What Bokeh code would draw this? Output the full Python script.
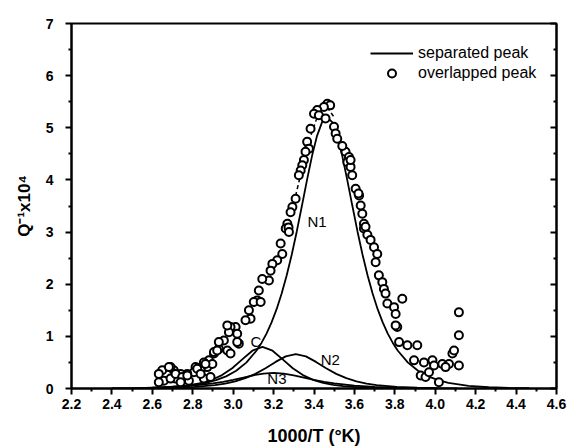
from bokeh.plotting import figure
from bokeh.models import (FixedTicker, PrintfTickFormatter, LinearAxis, Legend,
                          LegendItem, ColumnDataSource, CustomJSTickFormatter)
from bokeh.core.properties import value
from bokeh.embed import file_html
from bokeh.resources import INLINE

# ---------------- data ----------------
x_ticks = [2.2, 2.4, 2.6, 2.8, 3.0, 3.2, 3.4, 3.6, 3.8, 4.0, 4.2, 4.4, 4.6]
y_ticks = [0, 1, 2, 3, 4, 5, 6, 7]

# separated peak N1
n1_x = [2.565, 2.665, 2.765, 2.865, 2.915, 2.965, 3.015, 3.065, 3.115, 3.140, 3.165,
        3.190, 3.215, 3.240, 3.265, 3.290, 3.315, 3.340, 3.365, 3.390, 3.415, 3.440,
        3.465, 3.490, 3.515, 3.540, 3.565, 3.590, 3.615, 3.640, 3.665, 3.690, 3.715,
        3.740, 3.765, 3.790, 3.815, 3.865, 3.915, 3.965, 4.015, 4.065, 4.165, 4.265,
        4.365, 4.465]
n1_y = [0.011, 0.024, 0.051, 0.109, 0.159, 0.233, 0.340, 0.497, 0.724, 0.874, 1.053,
        1.267, 1.521, 1.821, 2.171, 2.571, 3.017, 3.499, 3.991, 4.456, 4.846, 5.108,
        5.200, 5.108, 4.846, 4.456, 3.991, 3.499, 3.017, 2.571, 2.171, 1.821, 1.521,
        1.267, 1.053, 0.874, 0.724, 0.497, 0.340, 0.233, 0.159, 0.109, 0.051, 0.024,
        0.011, 0.005]

# separated peak C
c_x = [2.545, 2.645, 2.745, 2.795, 2.845, 2.895, 2.945, 2.995, 3.045, 3.095, 3.145,
       3.195, 3.245, 3.295, 3.345, 3.395, 3.445, 3.495, 3.545, 3.645, 3.745]
c_y = [0.007, 0.018, 0.044, 0.068, 0.107, 0.167, 0.257, 0.389, 0.558, 0.725, 0.800,
       0.725, 0.558, 0.389, 0.257, 0.167, 0.107, 0.068, 0.044, 0.018, 0.007]

# separated peak N2
n2_x = [2.61, 2.71, 2.81, 2.91, 2.96, 3.01, 3.06, 3.11, 3.16, 3.21, 3.26, 3.31, 3.36,
        3.41, 3.46, 3.51, 3.56, 3.61, 3.66, 3.71, 3.81, 3.91, 4.01, 4.11]
n2_y = [0.007, 0.015, 0.031, 0.066, 0.095, 0.138, 0.198, 0.281, 0.388, 0.510, 0.616,
        0.660, 0.616, 0.510, 0.388, 0.281, 0.198, 0.138, 0.095, 0.066, 0.031, 0.015,
        0.007, 0.003]

# separated peak N3
n3_x = [2.40, 2.50, 2.60, 2.70, 2.80, 2.90, 2.95, 3.00, 3.05, 3.10, 3.15, 3.20, 3.25,
        3.30, 3.35, 3.40, 3.45, 3.50, 3.60, 3.70, 3.80, 3.90, 4.00]
n3_y = [0.005, 0.009, 0.016, 0.030, 0.054, 0.097, 0.128, 0.166, 0.209, 0.253, 0.287,
        0.300, 0.287, 0.253, 0.209, 0.166, 0.128, 0.097, 0.054, 0.030, 0.016, 0.009,
        0.005]

# overlapped peak (fitted, dashed near the top)
sum_x = [3.26, 3.30, 3.34, 3.38, 3.42, 3.46, 3.50]
sum_y = [3.05, 3.55, 4.20, 4.80, 5.25, 5.42, 5.20]

# overlapped peak, measured points
over_x = [3.466, 3.480, 3.449, 3.416, 3.400, 3.424, 3.457, 3.499, 3.507, 3.515, 3.383,
          3.366, 3.375, 3.358, 3.350, 3.342, 3.334, 3.325, 3.309, 3.293, 3.284, 3.268,
          3.260, 3.274, 3.556, 3.573, 3.565, 3.581, 3.589, 3.606, 3.623, 3.631, 3.639,
          3.647, 3.647, 3.581, 3.620, 3.655, 3.664, 3.680, 3.540,
          3.697, 3.713, 3.705, 3.721, 3.738, 3.746, 3.754, 3.837, 3.763, 3.796, 3.804,
          3.812, 3.821, 3.862, 3.911, 3.895, 3.944, 3.986, 3.994, 4.035, 4.068, 3.928,
          3.952, 3.969, 4.018, 4.085, 4.093, 4.117, 4.117, 4.117, 4.051, 3.804,
          3.276, 3.235, 3.243, 3.218, 3.194, 3.185, 3.177, 3.144, 3.127, 3.119, 3.102,
          3.136, 3.078, 3.086, 3.061, 3.012, 2.987, 2.979, 3.020, 2.954, 3.028, 2.929,
          2.971, 2.905, 2.987, 2.880, 2.855, 2.872, 2.897, 2.814, 2.839, 2.806, 2.773,
          2.740, 2.706, 2.690, 2.715, 2.781, 2.855, 2.888,
          2.649, 2.632, 2.682, 2.657, 2.690, 2.715, 2.748, 2.773, 2.740, 2.632, 2.822,
          2.839, 2.863, 2.905, 2.921, 2.929, 2.971, 3.020]
over_y = [5.46, 5.43, 5.40, 5.34, 5.27, 5.24, 5.18, 5.02, 4.89, 4.79, 4.98,
          4.73, 4.60, 4.54, 4.38, 4.28, 4.18, 4.09, 3.64, 3.48, 3.38, 3.16,
          3.07, 3.09, 4.54, 4.44, 4.34, 4.25, 4.09, 3.83, 3.70, 3.51, 3.35,
          3.16, 3.07, 4.38, 3.74, 3.10, 2.95, 2.85, 4.65,
          2.71, 2.58, 2.42, 2.17, 2.04, 1.91, 1.82, 1.72, 1.63, 1.56, 1.43,
          1.18, 0.89, 0.83, 0.83, 0.54, 0.50, 0.54, 0.44, 0.47, 0.47, 0.25,
          0.22, 0.31, 0.12, 0.67, 0.73, 0.44, 1.02, 1.46, 0.41, 1.21,
          3.00, 2.78, 2.58, 2.46, 2.39, 2.26, 2.07, 2.10, 1.88, 1.69, 1.66,
          1.66, 1.50, 1.34, 1.31, 1.18, 1.18, 1.08, 1.05, 0.92, 0.86, 0.76,
          0.73, 0.67, 0.67, 0.54, 0.50, 0.41, 0.47, 0.41, 0.35, 0.31, 0.28,
          0.28, 0.35, 0.41, 0.19, 0.15, 0.19, 0.22,
          0.35, 0.28, 0.41, 0.15, 0.19, 0.28, 0.22, 0.25, 0.12, 0.12, 0.38,
          0.28, 0.47, 0.70, 0.73, 0.89, 1.21, 0.89]

peak_labels = ["N1", "C", "N2", "N3"]
label_x = [3.368, 3.086, 3.433, 3.169]
label_y = [3.20, 0.91, 0.56, 0.19]

# ---------------- figure ----------------
FONT = "Liberation Sans"
p = figure(width=575, height=448, x_range=(2.2, 4.6), y_range=(0, 7),
           output_backend="svg", toolbar_location=None,
           min_border_left=71, min_border_right=19, min_border_top=23,
           min_border_bottom=60)
p.xgrid.visible = False
p.ygrid.visible = False
p.outline_line_color = "black"
p.outline_line_width = 2
p.outline_line_alpha = 1
p.background_fill_color = "white"
p.border_fill_color = "white"

lw = 1.8
r_n1 = p.line(n1_x, n1_y, line_color="black", line_width=lw)
p.line(c_x, c_y, line_color="black", line_width=lw)
p.line(n2_x, n2_y, line_color="black", line_width=lw)
p.line(n3_x, n3_y, line_color="black", line_width=lw)
p.line(sum_x, sum_y, line_color="black", line_width=1.5, line_dash="4 3")
r_sc = p.scatter(over_x, over_y, marker="circle", size=8, fill_color="white",
                 line_color="black", line_width=2)

src = ColumnDataSource(dict(x=label_x, y=label_y, t=peak_labels))
p.text(x="x", y="y", text="t", source=src, text_font=value(FONT),
       text_font_size="15px", text_baseline="middle", text_align="left",
       text_color="black")

# axes
xminor = [round(2.3 + 0.2 * i, 1) for i in range(12)]
yminor = [0.5 + i for i in range(7)]
for ax in p.xaxis:
    ax.ticker = FixedTicker(ticks=x_ticks, minor_ticks=xminor)
    ax.formatter = PrintfTickFormatter(format="%.1f")
    ax.axis_label = "1000/T (\u00b0K)"
for ax in p.yaxis:
    ax.ticker = FixedTicker(ticks=y_ticks, minor_ticks=yminor)
    ax.axis_label = "Q\u207b\u00b9x10\u2074"

for ax in p.xaxis + p.yaxis:
    ax.axis_line_color = "black"
    ax.axis_line_width = 2
    ax.major_tick_line_color = "black"
    ax.major_tick_line_width = 2
    ax.minor_tick_line_color = "black"
    ax.minor_tick_line_width = 2
    ax.major_tick_out = 6
    ax.major_tick_in = 0
    ax.minor_tick_out = 3
    ax.minor_tick_in = 0
    ax.major_label_text_font = FONT
    ax.major_label_text_font_style = "bold"
    ax.major_label_text_font_size = "14px"
    ax.major_label_text_color = "black"
    ax.axis_label_text_font = FONT
    ax.axis_label_text_font_style = "bold"
    ax.axis_label_text_color = "black"

p.xaxis.major_label_standoff = 4
p.xaxis.axis_label_text_font_size = "18px"
p.xaxis.axis_label_standoff = 14
p.yaxis.major_label_standoff = 12
p.yaxis.axis_label_text_font_size = "17px"
p.yaxis.axis_label_standoff = 9

rax = LinearAxis(ticker=FixedTicker(ticks=y_ticks, minor_ticks=yminor),
                 formatter=CustomJSTickFormatter(code="return '';"))
rax.axis_line_color = "black"
rax.axis_line_width = 2
rax.major_tick_line_width = 2
rax.minor_tick_line_width = 2
rax.major_tick_in = 6
rax.major_tick_out = 0
rax.minor_tick_in = 3
rax.minor_tick_out = 0
rax.major_label_standoff = 0
p.add_layout(rax, "right")

legend = Legend(items=[LegendItem(label="separated peak", renderers=[r_n1]),
                       LegendItem(label="overlapped peak", renderers=[r_sc])],
                location=(299, 305), orientation="vertical")
legend.border_line_alpha = 0
legend.background_fill_alpha = 0
legend.padding = 0
legend.margin = 0
legend.spacing = 0
legend.glyph_width = 43
legend.glyph_height = 20
legend.label_height = 20
legend.label_standoff = 5
legend.label_text_font = FONT
legend.label_text_font_size = "16px"
legend.label_text_color = "black"
p.add_layout(legend, "center")

open("out.html", "w").write(file_html(p, INLINE))
